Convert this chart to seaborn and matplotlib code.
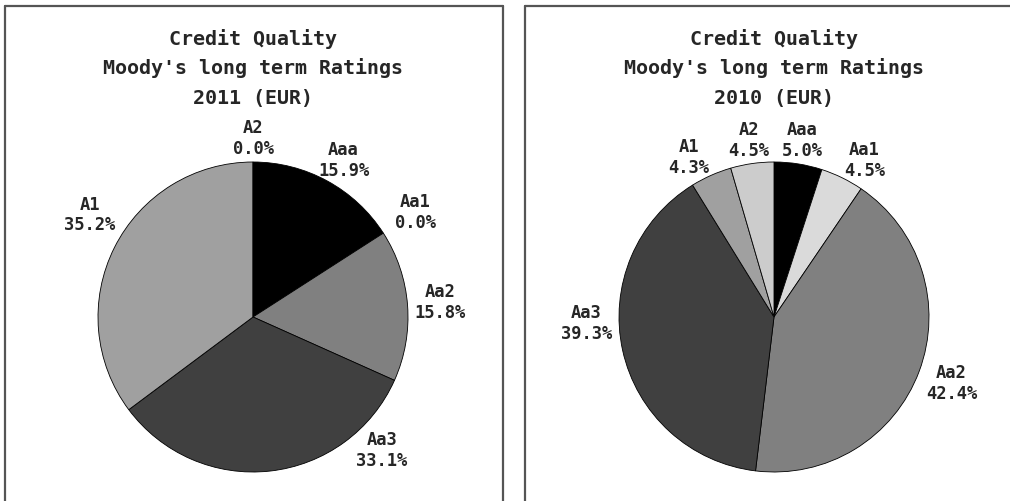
import numpy as np
import matplotlib
matplotlib.use('Agg')
from matplotlib import pyplot as plt
from matplotlib.lines import Line2D
import seaborn as sns

# data
ratings = ['Aaa', 'Aa1', 'Aa2', 'Aa3', 'A1', 'A2']
share_2011 = [15.9, 0.0, 15.8, 33.1, 35.2, 0.0]
share_2010 = [5.0, 4.5, 42.4, 39.3, 4.3, 4.5]
titles = ['Credit Quality', "Moody's long term Ratings"]
years = ['2011 (EUR)', '2010 (EUR)']

colors_2011 = ['#000000', '#dadada', '#808080', '#404040', '#a0a0a0', '#cccccc']
colors_2010 = ['#000000', '#dadada', '#808080', '#404040', '#a0a0a0', '#cccccc']

sns.set_style('white')
plt.rcParams['font.family'] = ['DejaVu Sans Mono', 'DejaVu Sans']

W, H = 1010, 501
fig = plt.figure(figsize=(W / 100, H / 100), dpi=100)

R = 155


def px_axes(cx, cy, r):
    return fig.add_axes([(cx - r) / W, (H - cy - r) / H, 2 * r / W, 2 * r / H])


def draw_pie(cx, cy, values, colors, year, overrides):
    ax = px_axes(cx, cy, R)
    wedges, _ = ax.pie(values, colors=colors, startangle=90, counterclock=False,
                       radius=1, wedgeprops=dict(edgecolor='black', linewidth=0.6))
    ax.set_xlim(-1, 1)
    ax.set_ylim(-1, 1)
    ax.axis('off')

    hw, hh, gap = 0.18, 0.12, 0.03
    for w, name, v in zip(wedges, ratings, values):
        mid = np.deg2rad((w.theta1 + w.theta2) / 2)
        # angle clockwise from top
        ang = np.pi / 2 - mid
        if name in overrides:
            ang = np.deg2rad(overrides[name])
        s, c = np.sin(ang), np.cos(ang)
        d = min(hw / max(abs(s), 1e-6), hh / max(abs(c), 1e-6))
        dist = 1.0 + gap + d
        ax.text(dist * s, dist * c, f'{name}\n{v:.1f}%', ha='center', va='center',
                fontsize=12.3, linespacing=1.2, fontweight='semibold', clip_on=False)

    for i, line in enumerate(titles + [year]):
        fig.text(cx / W, 1 - (39 + 29.5 * i) / H, line, ha='center', va='center',
                 fontsize=14.4, fontweight='semibold')


draw_pie(253, 317, share_2011, colors_2011, years[0], {'Aaa': 30, 'Aa3': 136, 'A1': 302})
draw_pie(774, 317, share_2010, colors_2010, years[1], {'Aa1': 30, 'Aa3': 268, 'A1': 332})

# panel frames
frame = dict(color='#555555', linewidth=1.6)
fig.add_artist(Line2D([5 / W, 5 / W], [0, 1 - 6 / H], **frame))
fig.add_artist(Line2D([503 / W, 503 / W], [0, 1 - 6 / H], **frame))
fig.add_artist(Line2D([5 / W, 503 / W], [1 - 6 / H, 1 - 6 / H], **frame))
fig.add_artist(Line2D([525 / W, 525 / W], [0, 1 - 6 / H], **frame))
fig.add_artist(Line2D([525 / W, 1], [1 - 6 / H, 1 - 6 / H], **frame))

fig.savefig('out.png', dpi=100)
